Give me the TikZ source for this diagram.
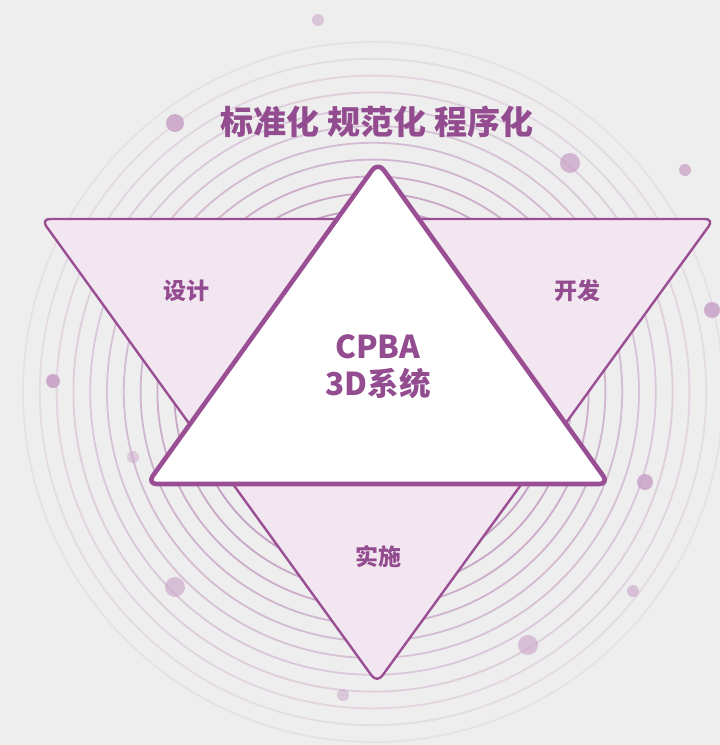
\documentclass[tikz,border=0pt]{standalone}
\usepackage{fontspec}
\newfontfamily\cjk{Noto Sans CJK SC}
\definecolor{bg}{HTML}{EEEEEE}
\definecolor{pur}{HTML}{9A4F95}
\definecolor{txt}{HTML}{934C8F}
\definecolor{ringc}{HTML}{B584B3}
\definecolor{dotc}{HTML}{C9A2C7}
\definecolor{pinkfill}{HTML}{F2E7F0}
\tikzset{
  ring/.style={line width=1.8pt},
  dot/.style={fill=dotc, draw=none},
  outertri/.style={draw=pur, fill=pinkfill, line width=2.4pt, rounded corners=9pt, line join=round},
  innertri/.style={draw=pur, fill=white, line width=4.6pt, rounded corners=10pt, line join=round},
  titletext/.style={font=\cjk\bfseries\fontsize{33}{38}\selectfont, text=txt, inner sep=0pt},
  label/.style={font=\cjk\bfseries\fontsize{23}{27}\selectfont, text=txt, inner sep=0pt},
  centertext/.style={font=\cjk\bfseries\fontsize{31.5}{37}\selectfont, text=txt, inner sep=0pt, align=center}
}
\begin{document}
\begin{tikzpicture}[x=1pt,y=-1pt]
\fill[bg] (0,0) rectangle (720,745);
\useasboundingbox (0,0) rectangle (720,745);
% concentric rings
\foreach \i in {0,...,10}{
  \pgfmathsetmacro\r{350-16.8*\i}
  \pgfmathtruncatemacro\p{12+6*\i}
  \draw[ring, draw=ringc!\p!bg] (373,392) circle[radius=\r pt];
}
% decorative dots
\fill[dot, opacity=0.55] (318,20) circle[radius=6pt];
\fill[dot, opacity=0.85] (175,123) circle[radius=9pt];
\fill[dot, opacity=0.75] (570,163) circle[radius=10pt];
\fill[dot, opacity=0.75] (685,170) circle[radius=6pt];
\fill[dot, opacity=0.85] (712,310) circle[radius=8pt];
\fill[dot, opacity=0.9] (122,304) circle[radius=6pt];
\fill[dot, opacity=0.9] (53,381) circle[radius=7pt];
\fill[dot, opacity=0.45] (133,457) circle[radius=6pt];
\fill[dot, opacity=0.85] (645,482) circle[radius=8pt];
\fill[dot, opacity=0.6] (175,587) circle[radius=10pt];
\fill[dot, opacity=0.6] (633,591) circle[radius=6pt];
\fill[dot, opacity=0.6] (528,645) circle[radius=10pt];
\fill[dot, opacity=0.5] (343,695) circle[radius=6pt];
% inverted triangle
\path[outertri] (41,219) -- (714,219) -- (377,683) -- cycle;
% main triangle
\path[innertri] (378,162) -- (609,484) -- (147,484) -- cycle;
% texts
\node[titletext] (title) at (377,122) {标准化 规范化 程序化};
\node[label] (design) at (186,291) {设计};
\node[label] (develop) at (577,291) {开发};
\node[label] (impl) at (378,557) {实施};
\node[centertext] (core) at (378,367) {CPBA\\3D系统};
\end{tikzpicture}
\end{document}
